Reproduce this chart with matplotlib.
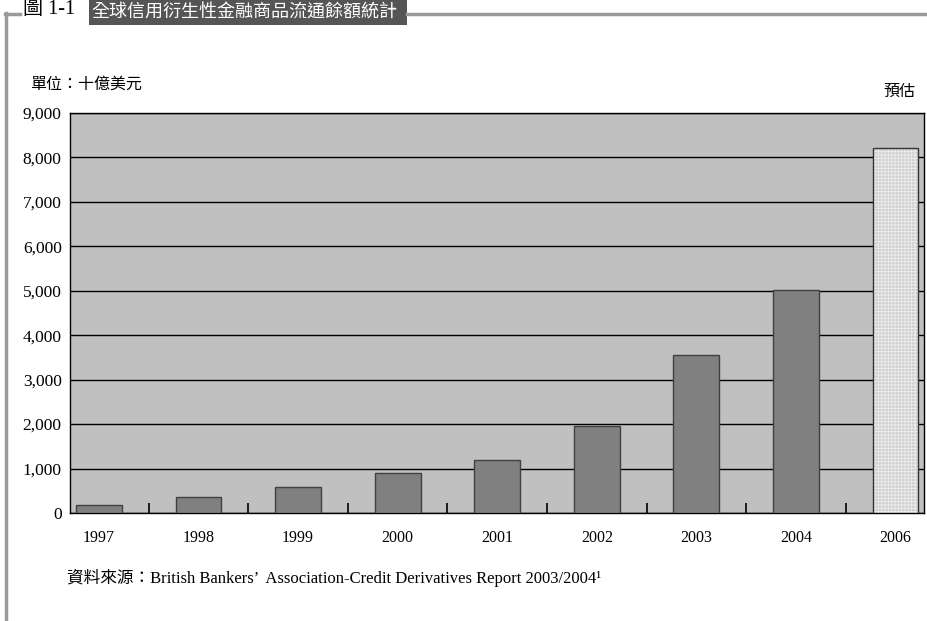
import matplotlib
matplotlib.use("Agg")
import matplotlib.pyplot as plt
from matplotlib.patches import Rectangle
from matplotlib.lines import Line2D
import numpy as np

years = ["1997", "1998", "1999", "2000", "2001", "2002", "2003", "2004", "2006"]
values = [180, 350, 586, 893, 1189, 1952, 3548, 5021, 8206]
is_forecast = [False] * 8 + [True]
y_ticks = [0, 1000, 2000, 3000, 4000, 5000, 6000, 7000, 8000, 9000]

FONT = ["Liberation Serif", "Noto Sans CJK TC", "DejaVu Sans"]
plt.rcParams["font.family"] = FONT
plt.rcParams["hatch.linewidth"] = 0.6

W, H = 928, 621
fig = plt.figure(figsize=(W / 100, H / 100), dpi=100)
fig.patch.set_facecolor("white")


def fx(px):
    return px / W


def fy(py):
    return 1 - py / H


# outer frame
frame_col = "#9a9a9a"
fig.add_artist(Line2D([fx(6), fx(6)], [fy(13), fy(621)], color=frame_col, lw=2.5))
fig.add_artist(Line2D([fx(5), fx(20)], [fy(14), fy(14)], color=frame_col, lw=2.5))
fig.add_artist(Line2D([fx(407), fx(928)], [fy(14), fy(14)], color=frame_col, lw=2.5))

# title
fig.text(fx(23), fy(10), "圖 1-1", fontsize=14.5, va="center", ha="left", color="black")
fig.add_artist(Rectangle((fx(89), fy(25)), fx(407 - 89), 25 / H,
                         facecolor="#555555", edgecolor="none"))
fig.text(fx(91), fy(12), "全球信用衍生性金融商品流通餘額統計", fontsize=13,
         va="center", ha="left", color="white")

# plot
ax = fig.add_axes([fx(70), fy(513), fx(924 - 70), (513 - 113) / H])
ax.set_facecolor("#c0c0c0")
x = np.arange(len(years))
for xi, v, fc in zip(x, values, is_forecast):
    if fc:
        ax.bar(xi, v, width=0.46, color="#d0d0d0", hatch="+++++",
               edgecolor="#eeeeee", linewidth=0, zorder=3)
        ax.bar(xi, v, width=0.46, fill=False, edgecolor="#333333",
               linewidth=1, zorder=4)
    else:
        ax.bar(xi, v, width=0.46, color="#808080", edgecolor="#404040",
               linewidth=1, zorder=3)

ax.set_xlim(-0.29, 8.286)
ax.set_ylim(0, 9000)
ax.set_yticks(y_ticks, [f"{t:,}" for t in y_ticks])
ax.yaxis.grid(True, color="black", lw=1)
ax.set_axisbelow(True)
ax.tick_params(axis="y", length=0, pad=6, labelsize=12.5)
ax.set_xticks(x, years)
ax.tick_params(axis="x", which="major", length=0, pad=12, labelsize=11.5)
ax.set_xticks(x[:-1] + 0.5, minor=True)
ax.tick_params(axis="x", which="minor", direction="in", length=7, width=1.2,
               color="black")
for s in ax.spines.values():
    s.set_color("black")
    s.set_linewidth(1)

fig.text(fx(30), fy(85), "單位：十億美元", fontsize=11.5, va="center", ha="left")
fig.text(fx(915), fy(92), "預估", fontsize=11.5, va="center", ha="right")
fig.text(fx(67), fy(578),
         "資料來源：British Bankers’  Association-Credit Derivatives Report 2003/2004¹",
         fontsize=12, va="center", ha="left")

fig.savefig("out.png", dpi=100)
